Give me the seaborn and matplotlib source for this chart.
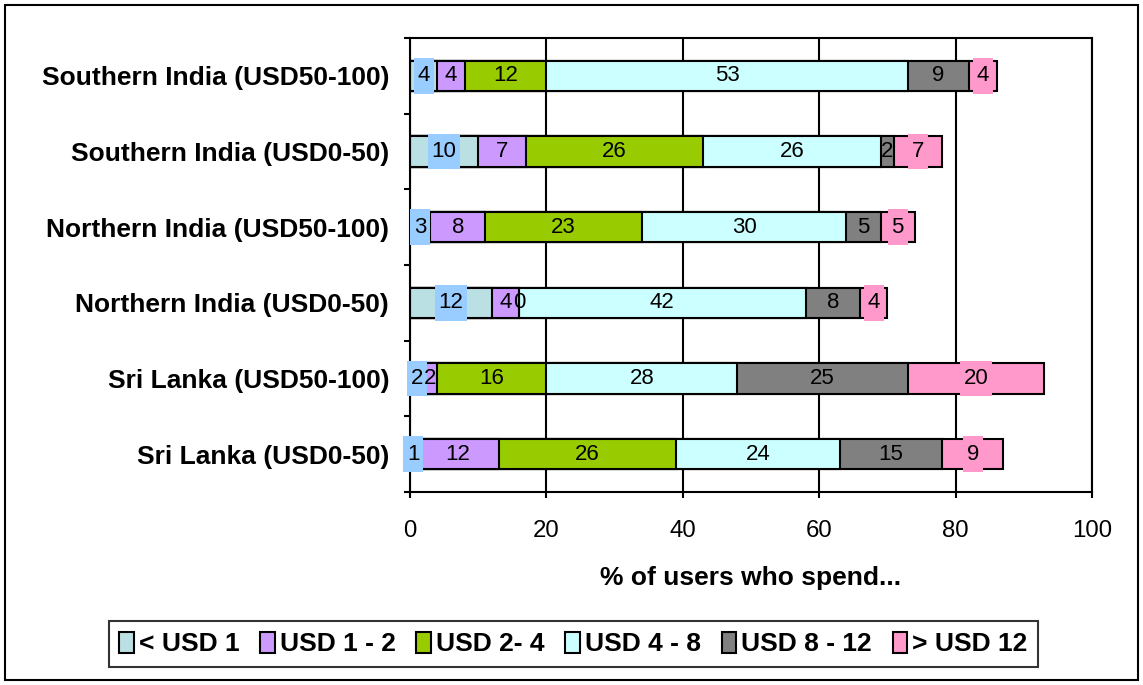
import numpy as np
import pandas as pd
import matplotlib
matplotlib.use("Agg")
import matplotlib.pyplot as plt
from matplotlib.patches import Patch, Rectangle
import seaborn as sns

categories = [
    "Southern India (USD50-100)",
    "Southern India (USD0-50)",
    "Northern India (USD50-100)",
    "Northern India (USD0-50)",
    "Sri Lanka (USD50-100)",
    "Sri Lanka (USD0-50)",
]
series_names = ["< USD 1", "USD 1 - 2", "USD 2- 4", "USD 4 - 8", "USD 8 - 12", "> USD 12"]
lt_usd1 = [4, 10, 3, 12, 2, 1]
usd1_2 = [4, 7, 8, 4, 2, 12]
usd2_4 = [12, 26, 23, 0, 16, 26]
usd4_8 = [53, 26, 30, 42, 28, 24]
usd8_12 = [9, 2, 5, 8, 25, 15]
gt_usd12 = [4, 7, 5, 4, 20, 9]
x_ticks = [0, 20, 40, 60, 80, 100]

colors = ["#BBE0E3", "#CC99FF", "#99CC00", "#CCFFFF", "#808080", "#FF99CC"]
label_bg = {0: "#99CCFF", 5: "#FF99CC"}

sns.set_style("white")
plt.rcParams["font.family"] = ["Liberation Sans", "DejaVu Sans"]
plt.rcParams["text.color"] = "black"
plt.rcParams["axes.labelcolor"] = "black"
plt.rcParams["xtick.color"] = "black"
plt.rcParams["ytick.color"] = "black"

values = np.array([lt_usd1, usd1_2, usd2_4, usd4_8, usd8_12, gt_usd12], dtype=float)
cum = np.cumsum(values, axis=0)

fig = plt.figure(figsize=(11.43, 6.85), dpi=100)
ax = fig.add_axes([410 / 1143, 1 - 492 / 685, (1092 - 410) / 1143, (492 - 38) / 685])

for i in range(len(series_names) - 1, -1, -1):
    df = pd.DataFrame({"cat": categories, "val": cum[i]})
    sns.barplot(data=df, x="val", y="cat", order=categories, color=colors[i],
                width=0.4, edgecolor="black", linewidth=1.5, orient="h",
                saturation=1, ax=ax, zorder=2)

# labels
for i in range(len(series_names)):
    for j in range(len(categories)):
        start = cum[i, j] - values[i, j]
        xc = start + values[i, j] / 2
        kw = {}
        if i in label_bg:
            kw["bbox"] = dict(boxstyle="square,pad=0.17", fc=label_bg[i], ec="none",
                              mutation_aspect=1.9)
        ax.text(xc, j, f"{int(values[i, j])}", ha="center", va="center",
                fontsize=16, color="black", zorder=5, **kw)

ax.set_xlim(0, 100)
ax.set_ylim(5.5, -0.5)
ax.set_xticks(x_ticks)
ax.set_xticklabels([str(t) for t in x_ticks], fontsize=17.3)
ax.set_yticks(range(len(categories)))
ax.set_yticklabels(categories, fontsize=19, fontweight="bold")
ax.set_yticks(np.arange(-0.5, 6, 1.0), minor=True)
ax.tick_params(axis="y", which="major", length=0, pad=15)
ax.tick_params(axis="y", which="minor", length=4.5, width=1.5, color="black", direction="out", left=True)
ax.tick_params(axis="x", which="major", length=4.5, width=1.5, color="black", direction="out", bottom=True, pad=16)
ax.set_ylabel("")
ax.set_xlabel("% of users who spend...", fontsize=19, fontweight="bold", labelpad=17)

ax.set_axisbelow(True)
ax.xaxis.grid(True, color="black", linewidth=1.5)
ax.yaxis.grid(False)
for s in ax.spines.values():
    s.set_visible(True)
    s.set_color("black")
    s.set_linewidth(1.5)

handles = [Patch(facecolor=c, edgecolor="black", linewidth=1.5) for c in colors]
leg = fig.legend(handles, series_names, loc="center", bbox_to_anchor=(0.5017, 0.06),
                 ncol=6, frameon=True, fancybox=False, edgecolor="black",
                 prop={"weight": "bold", "size": 19},
                 handlelength=0.55, handleheight=0.85, handletextpad=0.2,
                 columnspacing=0.78, borderpad=0.4)
leg.get_frame().set_linewidth(1.5)

fig.patches.append(Rectangle((5 / 1143, 5 / 685), 1133 / 1143, 675 / 685,
                             transform=fig.transFigure, fill=False,
                             edgecolor="black", linewidth=1.5))

fig.savefig("out.png", dpi=100)
